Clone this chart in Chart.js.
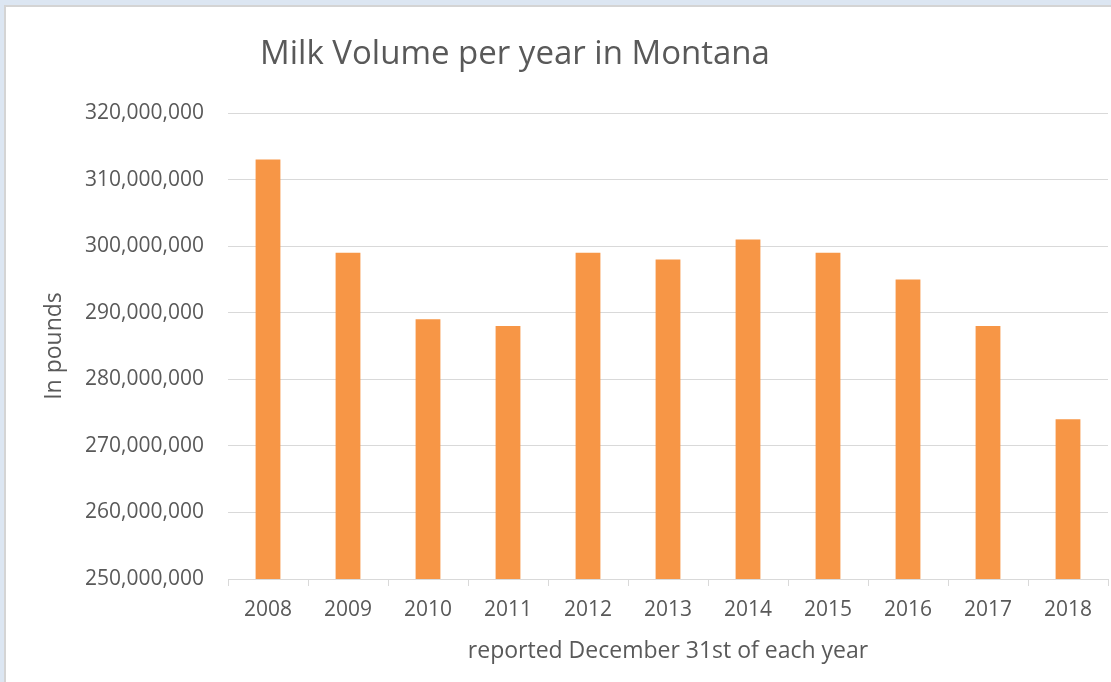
<!DOCTYPE html>
<html lang="en">

<head>
    <meta charset="UTF-8">
    <title>Milk Volume per year in Montana</title>
    <script src="https://cdn.jsdelivr.net/npm/chart.js"></script>
    <style>
        html, body { margin: 0; padding: 0; background: #dce6f2; }
        #wrap { width: 1111px; height: 682px; }
    </style>
</head>

<body>
    <div id="wrap">
        <canvas id="myChart" width="1111" height="682"></canvas>
    </div>
</body>

<script>
    const years = ['2008', '2009', '2010', '2011', '2012', '2013', '2014', '2015', '2016', '2017', '2018']
    const milkPounds = [313000000, 299000000, 289000000, 288000000, 299000000, 298000000,
        301000000, 299000000, 295000000, 288000000, 274000000]
    const yMin = 250000000
    const yMax = 320000000
    const yStep = 10000000

    const chartTitle = 'Milk Volume per year in Montana'
    const textColor = '#595959'
    const font = '"Open Sans", "DejaVu Sans", sans-serif'

    // frame + white sheet + the title, drawn on the canvas
    const sheet = {
        id: 'sheet',
        beforeDraw(chart) {
            const c = chart.ctx
            c.save()
            c.fillStyle = '#dce6f2'
            c.fillRect(0, 0, chart.width, chart.height)
            c.fillStyle = '#d4d4d4'
            c.fillRect(4, 5, chart.width, chart.height)
            c.fillStyle = '#ffffff'
            c.fillRect(6, 7, chart.width, chart.height)
            c.restore()
        },
        afterDraw(chart) {
            const c = chart.ctx
            c.save()
            c.font = '33px ' + font
            c.fillStyle = textColor
            c.textAlign = 'center'
            c.textBaseline = 'middle'
            c.fillText(chartTitle, 515, 55)
            c.restore()
        }
    }

    const ctx = document.getElementById('myChart')

    const data = {
        labels: years,
        datasets: [{
            data: milkPounds,
            backgroundColor: '#f79646',
            borderWidth: 0,
            barPercentage: 0.31,
            categoryPercentage: 1
        }]
    }

    const config = {
        type: 'bar',
        data: data,
        plugins: [sheet],
        options: {
            responsive: false,
            animation: false,
            layout: {
                padding: { top: 113, right: 3, bottom: 0, left: 0 }
            },
            plugins: {
                legend: { display: false },
                title: { display: false },
                tooltip: { enabled: false }
            },
            scales: {
                x: {
                    afterFit: s => { s.height = 103 },
                    grid: {
                        drawOnChartArea: false,
                        drawTicks: true,
                        tickLength: 7,
                        color: '#d9d9d9'
                    },
                    border: { color: '#d9d9d9', width: 1 },
                    ticks: {
                        color: textColor,
                        font: { family: font, size: 21 },
                        padding: 11,
                        maxRotation: 0
                    },
                    title: {
                        display: true,
                        text: 'reported December 31st of each year',
                        color: textColor,
                        font: { family: font, size: 23 },
                        padding: { top: 0, bottom: 17 }
                    }
                },
                y: {
                    min: yMin,
                    max: yMax,
                    afterFit: s => { s.width = 228 },
                    grid: {
                        drawTicks: false,
                        color: '#d9d9d9',
                        lineWidth: 1
                    },
                    border: { display: false },
                    ticks: {
                        stepSize: yStep,
                        color: textColor,
                        font: { family: font, size: 21 },
                        padding: 24,
                        callback: v => v.toLocaleString('en-US')
                    },
                    title: {
                        display: true,
                        text: 'In pounds',
                        color: textColor,
                        font: { family: font, size: 23 },
                        padding: { top: 41, bottom: 0 }
                    }
                }
            }
        }
    }
    window.milk_chart = new Chart(ctx, config)
</script>

</html>
